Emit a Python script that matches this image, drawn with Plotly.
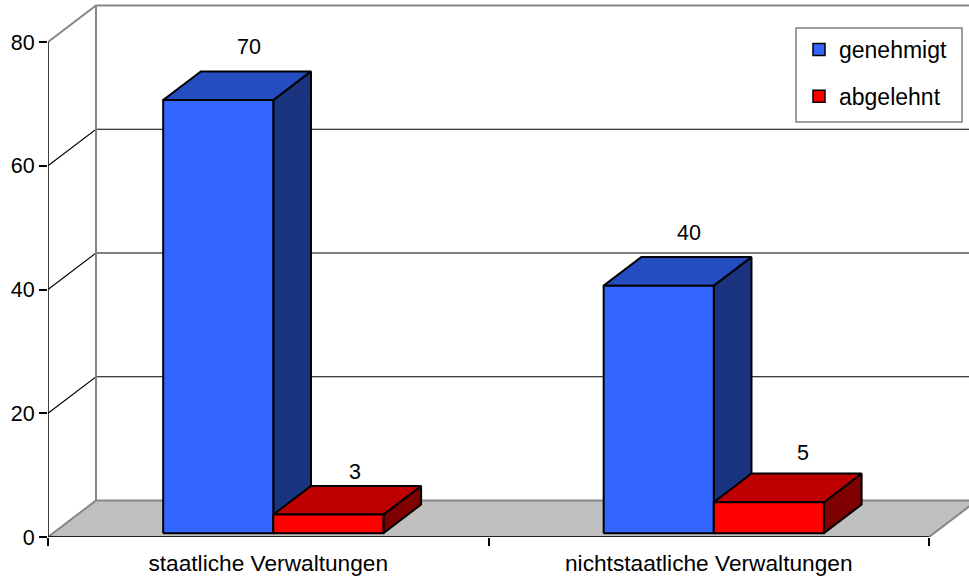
import plotly.graph_objects as go

# Chart data
categories = ["staatliche Verwaltungen", "nichtstaatliche Verwaltungen"]
genehmigt = [70, 40]
abgelehnt = [3, 5]
value_ticks = [0, 20, 40, 60, 80]

# Pseudo-3D projection: how far one full chart depth shifts a point on each axis
DEPTH_X = 0.109
DEPTH_Y = 5.9
BAR_WIDTH = 0.25
BAR_NEAR = 0.105
BAR_FAR = 0.89

# Plot area runs to the page edge so the receding walls stay visible
X_MAX = 921 / 440.5
Y_MAX = 537 / 6.1875

FONT = "Liberation Sans, Arial, sans-serif"
NUMBER_SIZE = 21.5
TEXT_SIZE = 22.7
LEGEND_SIZE = 23
WALL = "#868686"
FLOOR = "#c0c0c0"


def project(x, value, depth=0.0):
    return x + depth * DEPTH_X, value + depth * DEPTH_Y


def polygon(fig, points, fill, line_color="black", line_width=2):
    xs = [p[0] for p in points] + [points[0][0]]
    ys = [p[1] for p in points] + [points[0][1]]
    fig.add_trace(go.Scatter(
        x=xs, y=ys, mode="lines", fill="toself", fillcolor=fill,
        line=dict(color=line_color, width=line_width),
        hoverinfo="skip", showlegend=False, cliponaxis=False,
    ))


def polyline(fig, points, color, width):
    fig.add_trace(go.Scatter(
        x=[p[0] for p in points], y=[p[1] for p in points], mode="lines",
        line=dict(color=color, width=width),
        hoverinfo="skip", showlegend=False, cliponaxis=False,
    ))


def bar3d(fig, left, value, front, top, side):
    right = left + BAR_WIDTH
    a = project(left, 0, BAR_NEAR)
    b = project(right, 0, BAR_NEAR)
    c = project(right, value, BAR_NEAR)
    d = project(left, value, BAR_NEAR)
    e = project(left, value, BAR_FAR)
    f = project(right, value, BAR_FAR)
    g = project(right, 0, BAR_FAR)
    polygon(fig, [b, g, f, c], side)
    polygon(fig, [d, c, f, e], top)
    polygon(fig, [a, b, c, d], front)


fig = go.Figure()

# Floor and walls
span = float(len(categories))
polygon(fig, [project(0, 0), project(span, 0), project(span, 0, 1), project(0, 0, 1)],
        FLOOR, WALL, 2)
for tick in value_ticks[1:-1]:
    polyline(fig, [project(0, tick), project(0, tick, 1), project(span, tick, 1)], "black", 1.1)
polyline(fig, [project(0, value_ticks[-1]), project(0, value_ticks[-1], 1),
               project(span, value_ticks[-1], 1)], WALL, 2)
polyline(fig, [project(0, 0, 1), project(0, value_ticks[-1], 1)], WALL, 2)

# Bars, one blue and one red per category
for i in range(len(categories)):
    centre = i + 0.5
    bar3d(fig, centre - BAR_WIDTH, genehmigt[i], "#3366ff", "#264dbf", "#19337f")
    bar3d(fig, centre, abgelehnt[i], "#ff0000", "#bf0000", "#7f0000")

# Front axis lines stop at the last tick and category boundary
polyline(fig, [project(0, value_ticks[-1]), project(0, 0), project(span, 0)], "black", 1.5)

# Legend entries
for name, colour in (("genehmigt", "#3366ff"), ("abgelehnt", "#ff0000")):
    fig.add_trace(go.Scatter(
        x=[None], y=[None], mode="markers", name=name, legendgroup=name,
        marker=dict(symbol="square", size=12, color=colour, line=dict(color="black", width=1.5)),
    ))

# Value labels sit above the rear edge of each bar's top face
label_lift = {"genehmigt": [24, 24], "abgelehnt": [14, 20.5]}
label_nudge = {"genehmigt": [-7, -7], "abgelehnt": [-11, -4]}
for i in range(len(categories)):
    centre = i + 0.5
    for name, values, left in (("genehmigt", genehmigt, centre - BAR_WIDTH),
                               ("abgelehnt", abgelehnt, centre)):
        x, y = project(left + BAR_WIDTH / 2, values[i], BAR_FAR)
        fig.add_annotation(
            x=x, y=y, xref="x", yref="y", text=str(values[i]), showarrow=False,
            xshift=label_nudge[name][i], yshift=label_lift[name][i], yanchor="middle",
            font=dict(family=FONT, size=NUMBER_SIZE, color="black"),
        )

# Legend frame
fig.add_shape(
    type="rect", xref="paper", yref="paper", layer="above",
    x0=(796 - 48) / 921, x1=(962 - 48) / 921, y0=(537 - 122) / 537, y1=(537 - 28) / 537,
    line=dict(color="#808080", width=1.5), fillcolor="rgba(255,255,255,0)",
)
fig.add_shape(
    type="rect", xref="paper", yref="paper", layer="below",
    x0=(796 - 48) / 921, x1=(962 - 48) / 921, y0=(537 - 122) / 537, y1=(537 - 28) / 537,
    line=dict(width=0), fillcolor="white",
)

fig.update_layout(
    width=969, height=577,
    margin=dict(l=48, r=0, t=0, b=40, autoexpand=False),
    paper_bgcolor="white", plot_bgcolor="rgba(0,0,0,0)",
    font=dict(family=FONT, size=TEXT_SIZE, color="black"),
    legend=dict(
        x=799 / 969, y=1 - 28 / 577, xref="container", yref="container",
        xanchor="left", yanchor="top",
        bgcolor="rgba(255,255,255,0)", borderwidth=0,
        tracegroupgap=14, itemwidth=30, font=dict(family=FONT, size=LEGEND_SIZE),
    ),
    xaxis=dict(
        range=[0, X_MAX], tickmode="array",
        tickvals=[i + 0.5 for i in range(len(categories))], ticktext=categories,
        ticks="outside", ticklen=6, tickcolor="rgba(0,0,0,0)",
        minor=dict(tickmode="array", tickvals=list(range(len(categories) + 1)),
                   ticks="outside", ticklen=8, tickcolor="black", tickwidth=1.5),
        showgrid=False, zeroline=False, showline=False,
        tickfont=dict(family=FONT, size=TEXT_SIZE),
    ),
    yaxis=dict(
        range=[0, Y_MAX], tickmode="array", tickvals=value_ticks,
        ticks="outside", ticklen=8, tickcolor="black", tickwidth=1.5,
        showgrid=False, zeroline=False, showline=False,
        tickfont=dict(family=FONT, size=NUMBER_SIZE),
    ),
)

fig.write_html("out.html")
